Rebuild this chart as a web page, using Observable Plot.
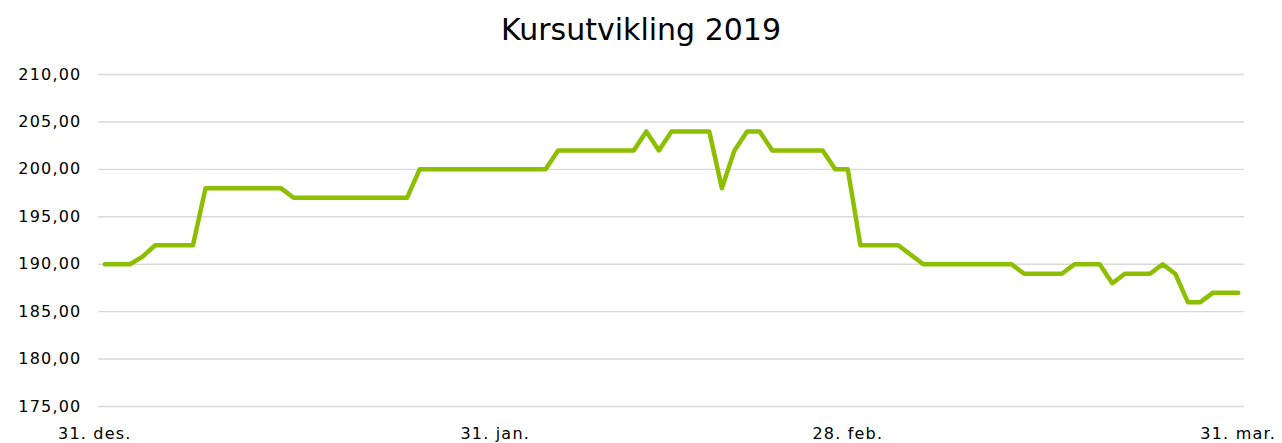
<!DOCTYPE html>
<html><head><meta charset="utf-8">
<script src="https://cdn.jsdelivr.net/npm/d3@7"></script>
<script src="https://cdn.jsdelivr.net/npm/@observablehq/plot@0.6"></script>
<style>
body{margin:0;background:#fff;}
#title{height:60px;line-height:60px;font-family:"DejaVu Sans";font-size:30px;text-align:center;color:#000;width:1282px;}
</style>
</head><body>
<div id="title">Kursutvikling 2019</div>
<div id="chart"></div>
<script>
const dates = ["2018-12-31","2019-01-02","2019-01-03","2019-01-04","2019-01-07","2019-01-08","2019-01-14","2019-01-15","2019-01-24","2019-01-25","2019-02-04","2019-02-05","2019-02-11","2019-02-12","2019-02-13","2019-02-14","2019-02-17","2019-02-18","2019-02-19","2019-02-20","2019-02-21","2019-02-22","2019-02-26","2019-02-27","2019-02-28","2019-03-01","2019-03-04","2019-03-06","2019-03-13","2019-03-14","2019-03-17","2019-03-18","2019-03-20","2019-03-21","2019-03-22","2019-03-24","2019-03-25","2019-03-26","2019-03-27","2019-03-28","2019-03-29","2019-03-31"];
const prices = [190,190,190.8,192,192,198,198,197,197,200,200,202,202,204,202,204,204,198,202,204,204,202,202,200,200,192,192,190,190,189,189,190,190,188,189,189,190,189,186,186,187,187];
const yTicks = [175,180,185,190,195,200,205,210];
const xTickDates = ["2018-12-31","2019-01-31","2019-02-28","2019-03-31"];
const xTickLabels = ["31. des.","31. jan.","28. feb.","31. mar."];

const data = dates.map((d,i)=>({date:new Date(d+"T00:00Z"), price:prices[i]}));
const xt = xTickDates.map(d=>new Date(d+"T00:00Z"));
const labelOf = new Map(xt.map((d,i)=>[+d, xTickLabels[i]]));
const fmt = v => d3.format(".2f")(v).replace(".", ",");
const xAxisOpts = {tickSize:0, tickPadding:21, tickFormat:d=>labelOf.get(+d), fontSize:16, fill:"#000", label:null};

const plot = Plot.plot({
  width:1282, height:383,
  marginLeft:98, marginRight:38, marginTop:14, marginBottom:37,
  style:{fontFamily:"DejaVu Sans", color:"#000", background:"#fff", letterSpacing:"1.2px"},
  x:{type:"utc", domain:[new Date("2018-12-30T12:00Z"), new Date("2019-03-31T12:00Z")], axis:null},
  y:{domain:[175,210], axis:null},
  marks:[
    Plot.ruleY(yTicks,{stroke:"#d9d9d9", strokeWidth:1.4}),
    Plot.axisY(yTicks,{tickSize:0, tickPadding:17, tickFormat:fmt, fontSize:16, fill:"#000", label:null}),
    Plot.axisX(xt.slice(0,1),{...xAxisOpts, dx:-10}),
    Plot.axisX(xt.slice(1),xAxisOpts),
    Plot.line(data,{x:"date", y:"price", stroke:"#8cbf00", strokeWidth:4.5, strokeLinejoin:"round", strokeLinecap:"round"})
  ]
});
document.getElementById("chart").appendChild(plot);
</script>
</body></html>
